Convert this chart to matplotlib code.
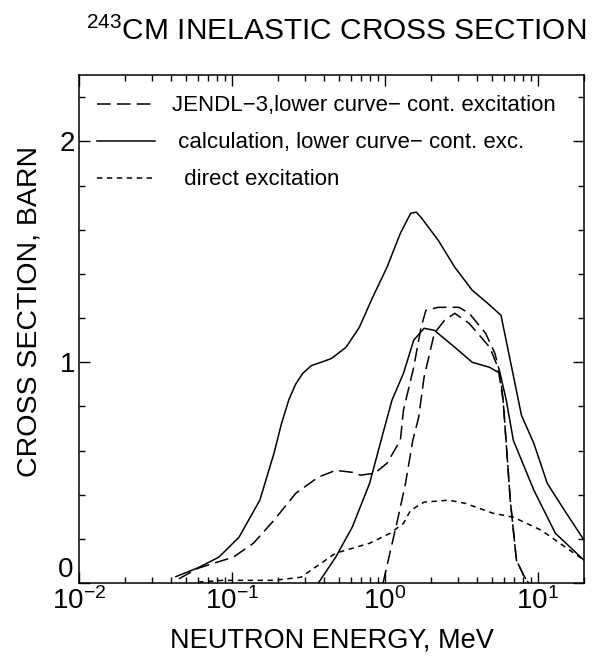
import matplotlib
matplotlib.use("Agg")
import matplotlib.pyplot as plt
from matplotlib.ticker import MultipleLocator, LogLocator, NullFormatter, FuncFormatter

plt.rcParams["font.family"] = ["Liberation Sans", "DejaVu Sans"]
plt.rcParams["mathtext.fontset"] = "custom"
plt.rcParams["mathtext.rm"] = "Liberation Sans"
plt.rcParams["mathtext.default"] = "regular"

# calculation, total inelastic (upper solid)
calc_tot_e = [0.043, 0.060, 0.082, 0.111, 0.152, 0.188, 0.21, 0.235, 0.26, 0.29,
              0.33, 0.40, 0.448, 0.556, 0.679, 0.830, 1.03, 1.26, 1.47, 1.60,
              1.72, 2.23, 2.86, 3.72, 4.69, 5.73, 7.8, 9.4, 11.5, 14.9, 20.0]
calc_tot_y = [0.03, 0.07, 0.118, 0.208, 0.376, 0.588, 0.72, 0.83, 0.90, 0.95,
              0.985, 1.005, 1.018, 1.068, 1.158, 1.294, 1.43, 1.584, 1.674, 1.68,
              1.656, 1.552, 1.43, 1.326, 1.267, 1.213, 0.76, 0.633, 0.452, 0.33, 0.195]

# calculation, continuum excitation (lower solid)
calc_cont_e = [0.366, 0.476, 0.610, 0.793, 0.97, 1.11, 1.32, 1.54, 1.80, 2.10,
               2.86, 3.72, 4.84, 5.65, 6.2, 6.9, 9.4, 13.0, 20.0]
calc_cont_y = [0.0, 0.118, 0.253, 0.452, 0.679, 0.828, 0.95, 1.10, 1.154, 1.145,
               1.068, 1.0, 0.977, 0.95, 0.83, 0.647, 0.421, 0.226, 0.104]

# JENDL-3 total inelastic (upper long dash)
jendl_tot_e = [0.045, 0.060, 0.102, 0.138, 0.188, 0.261, 0.366, 0.476, 0.610, 0.690,
               0.857, 1.03, 1.26, 1.32, 1.54, 1.72, 1.85, 2.23, 3.04, 3.55,
               4.55, 5.23, 5.65, 5.92, 6.59, 7.23, 8.05, 8.7]
jendl_tot_y = [0.02, 0.068, 0.118, 0.181, 0.285, 0.407, 0.480, 0.511, 0.502, 0.489,
               0.498, 0.543, 0.647, 0.783, 0.977, 1.158, 1.235, 1.249, 1.249, 1.222,
               1.131, 1.04, 0.95, 0.828, 0.376, 0.104, 0.036, 0.0]

# JENDL-3 continuum excitation (lower long dash)
jendl_cont_e = [0.97, 1.22, 1.36, 1.52, 1.66, 1.80, 2.10, 2.45, 2.86, 3.55,
                4.84, 5.47, 5.92, 6.59, 7.23, 8.05, 8.7]
jendl_cont_y = [0.0, 0.30, 0.45, 0.647, 0.751, 0.932, 1.131, 1.19, 1.222, 1.176,
                1.068, 0.977, 0.828, 0.376, 0.104, 0.036, 0.0]

# direct excitation (short dash)
direct_e = [0.06, 0.087, 0.188, 0.282, 0.476, 0.793, 1.08, 1.32, 1.47, 1.80,
            2.61, 3.33, 5.07, 6.9, 10.5, 20.0]
direct_y = [0.005, 0.013, 0.013, 0.027, 0.136, 0.181, 0.226, 0.271, 0.33, 0.367,
            0.376, 0.362, 0.317, 0.299, 0.24, 0.104]

labels = ["JENDL\u22123,lower curve\u2212 cont. excitation",
          " calculation, lower curve\u2212 cont. exc.",
          "  direct excitation"]

fig = plt.figure(figsize=(5.99, 6.59), dpi=100)
ax = fig.add_axes([0.132, 0.115, 0.843, 0.771])

lw = 1.1
l_jendl, = ax.plot(jendl_tot_e, jendl_tot_y, color="black", lw=lw, dashes=(9, 4))
ax.plot(jendl_cont_e, jendl_cont_y, color="black", lw=lw, dashes=(9, 4))
l_calc, = ax.plot(calc_tot_e, calc_tot_y, color="black", lw=lw)
ax.plot(calc_cont_e, calc_cont_y, color="black", lw=lw)
l_dir, = ax.plot(direct_e, direct_y, color="black", lw=lw, dashes=(3.5, 3))

ax.set_xscale("log")
ax.set_xlim(0.01, 20)
ax.set_ylim(0, 2.3)

ax.yaxis.set_major_locator(MultipleLocator(1))
ax.yaxis.set_minor_locator(MultipleLocator(0.2))
# the zero label is drawn separately, raised above the 10^-2 label
ax.yaxis.set_major_formatter(FuncFormatter(lambda v, pos: "" if v == 0 else f"{v:g}"))
ax.xaxis.set_major_locator(LogLocator(base=10))
ax.xaxis.set_minor_locator(LogLocator(base=10, subs=range(2, 10)))
ax.xaxis.set_minor_formatter(NullFormatter())

ax.tick_params(which="both", direction="in", top=True, right=True, width=1.0)
ax.tick_params(which="major", length=8, labelsize=20, pad=3)
ax.tick_params(which="minor", length=4)
for s in ax.spines.values():
    s.set_linewidth(1.1)

ax.text(-0.012, 0.0, "0", transform=ax.get_yaxis_transform(), ha="right",
        va="bottom", fontsize=20)

ax.set_xlabel("NEUTRON ENERGY, MeV", fontsize=19.5, labelpad=9)
ax.set_ylabel("CROSS SECTION, BARN", fontsize=20.5)
ax.yaxis.set_label_coords(-0.072, 0.535)

ax.legend([l_jendl, l_calc, l_dir], labels, loc="upper left", frameon=False,
          fontsize=16, handlelength=2.6, handletextpad=0.8, labelspacing=0.72,
          bbox_to_anchor=(0.0, 0.995), borderaxespad=0.4)

fig.text(0.561, 0.952, r"$^{243}$CM INELASTIC CROSS SECTION", fontsize=21.5,
         ha="center", va="center")

fig.savefig("out.png", dpi=100)
